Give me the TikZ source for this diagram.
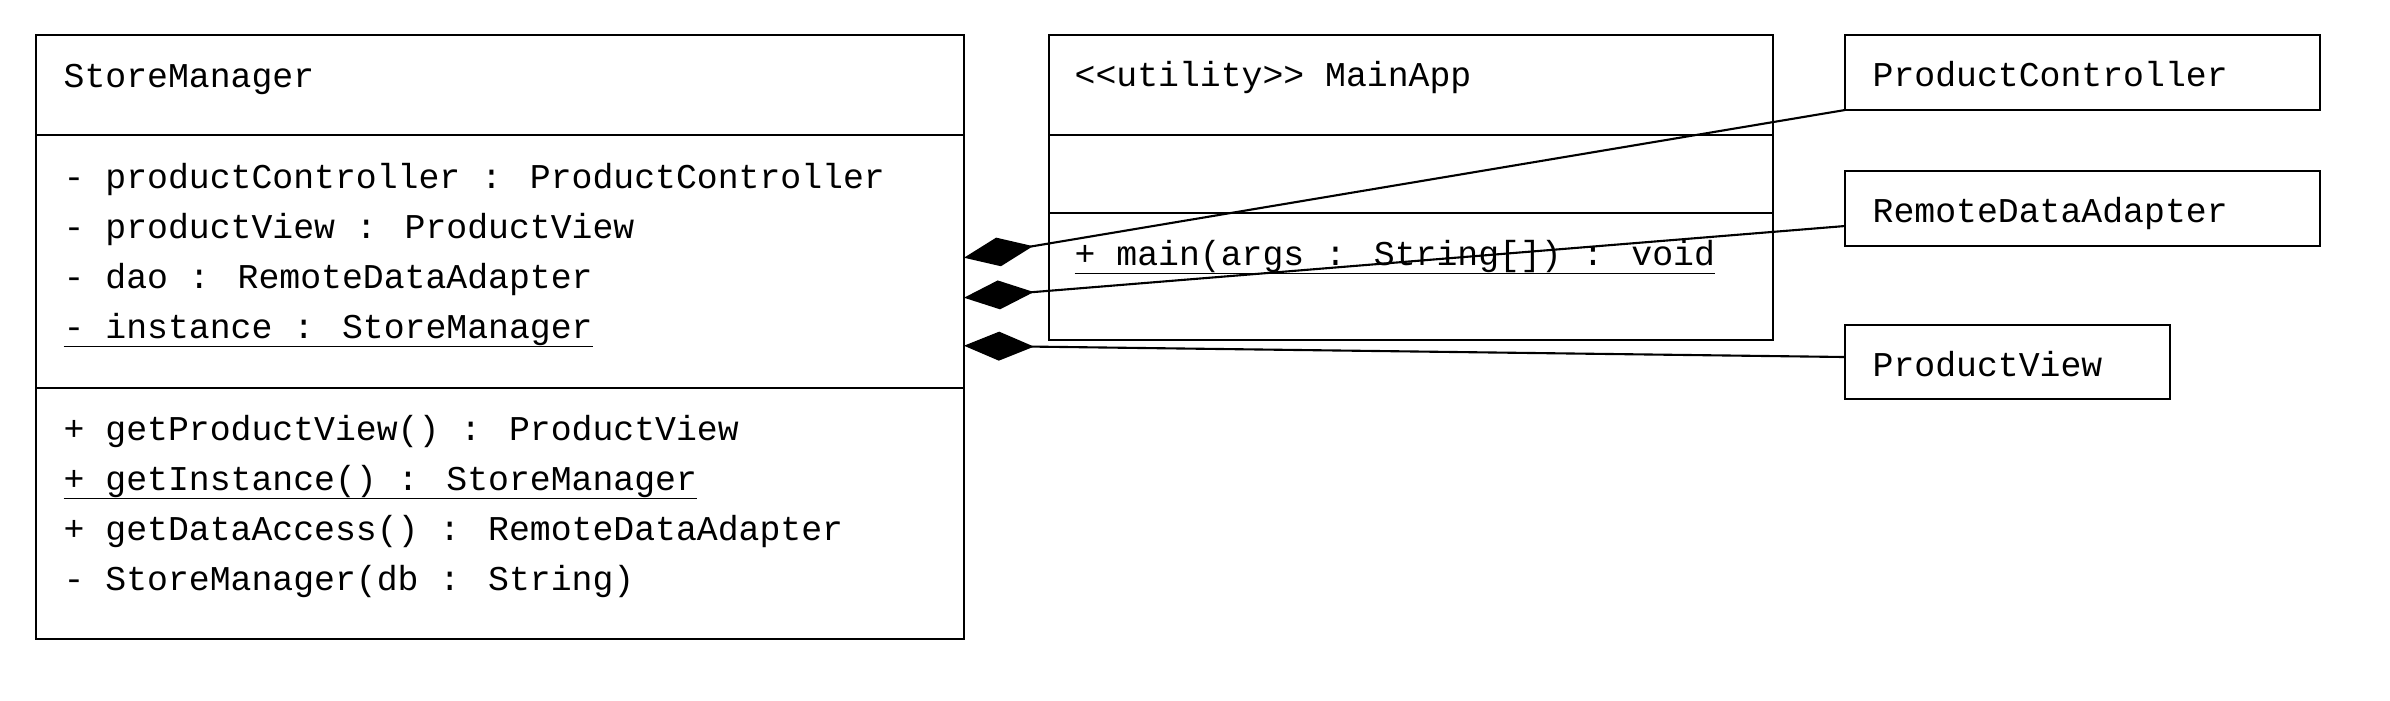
\documentclass[tikz,border=0pt]{standalone}
\usepackage{fontspec}
\setmainfont{Liberation Mono}
\usetikzlibrary{arrows.meta}
\newcommand{\ulined}[1]{\setbox0\hbox{#1}\rlap{\rule[-2.6pt]{\wd0}{0.35pt}}\box0}

\begin{document}
\begin{tikzpicture}[
	box/.style={draw, line width=0.8pt, inner sep=0, outer sep=0, anchor=north west},
	sep/.style={line width=0.8pt},
	txt/.style={anchor=base west, inner sep=0, font=\fontsize{9.9}{12}\selectfont},
	comp/.style={line width=0.6pt, {Diamond[length=7mm,width=2.9mm]}-}
]
	\useasboundingbox (0,0) rectangle (23.9,-7);
	\node[box, minimum width=9.28cm, minimum height=6.04cm] (sm) at (0.36,-0.35) {};
	\draw[sep] ([yshift=-1cm]sm.north west) -- ([yshift=-1cm]sm.north east);
	\draw[sep] ([yshift=-3.53cm]sm.north west) -- ([yshift=-3.53cm]sm.north east);
	\node[txt] (smName) at (0.63,-0.87) {StoreManager};
	\node[txt] (smA1) at (0.63,-1.88) {- productController : ProductController};
	\node[txt] (smA2) at (0.63,-2.38) {- productView : ProductView};
	\node[txt] (smA3) at (0.63,-2.88) {- dao : RemoteDataAdapter};
	\node[txt] (smA4) at (0.63,-3.38) {\ulined{- instance : StoreManager}};
	\node[txt] (smM1) at (0.63,-4.40) {+ getProductView() : ProductView};
	\node[txt] (smM2) at (0.63,-4.90) {\ulined{+ getInstance() : StoreManager}};
	\node[txt] (smM3) at (0.63,-5.40) {+ getDataAccess() : RemoteDataAdapter};
	\node[txt] (smM4) at (0.63,-5.90) {- StoreManager(db : String)};

	\node[box, minimum width=7.24cm, minimum height=3.05cm] (app) at (10.49,-0.35) {};
	\draw[sep] ([yshift=-1cm]app.north west) -- ([yshift=-1cm]app.north east);
	\draw[sep] ([yshift=-1.78cm]app.north west) -- ([yshift=-1.78cm]app.north east);
	\node[txt] (appName) at (10.74,-0.86) {{<}{<}utility{>}{>} MainApp};
	\node[txt] (appM1) at (10.74,-2.65) {\ulined{+ main(args : String[]) : void}};

	\node[box, minimum width=4.75cm, minimum height=0.75cm] (pc) at (18.45,-0.35) {};
	\node[txt] (pcName) at (18.72,-0.86) {ProductController};
	\node[box, minimum width=4.75cm, minimum height=0.75cm] (rda) at (18.45,-1.71) {};
	\node[txt] (rdaName) at (18.72,-2.22) {RemoteDataAdapter};
	\node[box, minimum width=3.25cm, minimum height=0.74cm] (pv) at (18.45,-3.25) {};
	\node[txt] (pvName) at (18.72,-3.76) {ProductView};

	\draw[comp] ([yshift=7.93mm]sm.east) -- (pc.south west);
	\draw[comp] ([yshift=3.93mm]sm.east) -- ([yshift=-1.75mm]rda.west);
	\draw[comp] ([yshift=-0.87mm]sm.east) -- ([yshift=0.5mm]pv.west);
\end{tikzpicture}
\end{document}
